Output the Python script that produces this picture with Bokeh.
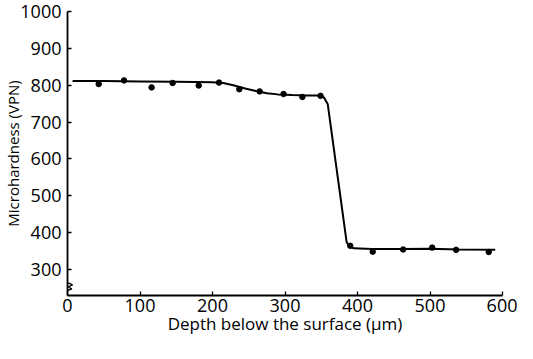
from bokeh.plotting import figure
from bokeh.models import Range1d, FixedTicker
from bokeh.embed import file_html
from bokeh.resources import INLINE

# Measured points (depth in µm, microhardness VPN)
depth = [43, 78, 116, 145, 181, 209, 237, 265, 298, 324, 349, 390, 421, 463, 503, 536, 581]
hardness = [803, 813, 794, 806, 799, 807, 789, 783, 776, 768, 771, 364, 348, 354, 359, 353, 347]

# Hand-drawn fitted curve
curve_depth = [7, 50, 100, 150, 200, 215, 230, 245, 260, 275, 290, 310, 330, 348, 354, 359,
               385, 389, 395, 420, 460, 500, 540, 590]
curve_hardness = [811, 811, 810, 809, 808, 806, 799, 791, 784, 778, 775, 773, 772, 772, 766, 748,
                  374, 362, 357, 355, 355, 356, 354, 353]

x_ticks = [0, 100, 200, 300, 400, 500, 600]
y_ticks = [300, 400, 500, 600, 700, 800, 900, 1000]
x_title = "Depth below the surface (µm)"
y_title = "Microhardness (VPN)"

# axis-break symbol on the vertical axis
break_x = [0, 7, 1, 6, 0]
break_y = [264, 258, 252, 247, 242]

FONT = "Open Sans"

p = figure(width=517, height=343, output_backend="svg", toolbar_location=None,
           x_range=Range1d(0, 600), y_range=Range1d(229, 1000),
           min_border_left=64, min_border_right=15, min_border_top=11, min_border_bottom=48)
p.outline_line_color = None
p.grid.visible = False
p.background_fill_color = "white"
p.border_fill_color = "white"

for ax in (p.xaxis[0], p.yaxis[0]):
    ax.axis_line_width = 1.8
    ax.axis_line_color = "black"
    ax.major_tick_in = 4
    ax.major_tick_out = 0
    ax.major_tick_line_width = 1.3
    ax.minor_tick_line_color = None
    ax.major_label_text_font = FONT
    ax.major_label_text_font_size = "18px"
    ax.major_label_text_color = "black"
    ax.axis_label_text_font = FONT
    ax.axis_label_text_font_style = "normal"
    ax.axis_label_text_color = "black"

p.xaxis.ticker = FixedTicker(ticks=x_ticks)
p.yaxis.ticker = FixedTicker(ticks=y_ticks)
p.xaxis.axis_label = x_title
p.yaxis.axis_label = y_title
p.xaxis.axis_label_text_font_size = "17px"
p.yaxis.axis_label_text_font_size = "15px"
p.xaxis.major_label_standoff = 3
p.yaxis.major_label_standoff = 6
p.xaxis.axis_label_standoff = -3
p.yaxis.axis_label_standoff = -6

p.line(curve_depth, curve_hardness, line_color="black", line_width=2)
p.scatter(depth, hardness, size=5.5, fill_color="black", line_color="black")
p.line(break_x, break_y, line_color="black", line_width=1.3)

open("out.html", "w").write(file_html(p, INLINE))
